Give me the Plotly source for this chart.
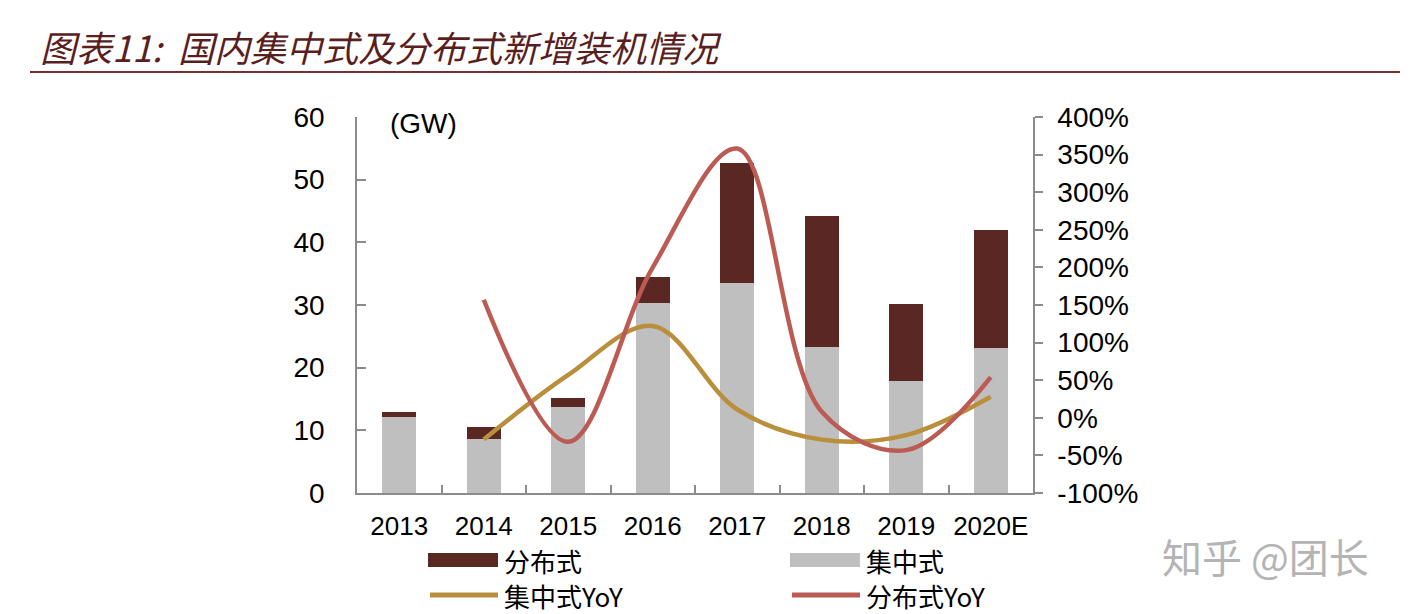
import plotly.graph_objects as go

years = ['2013', '2014', '2015', '2016', '2017', '2018', '2019', '2020E']
centralized = [12.1, 8.6, 13.7, 30.3, 33.5, 23.3, 17.9, 23.1]
distributed = [0.8, 2.0, 1.5, 4.1, 19.1, 20.9, 12.2, 18.9]
centralized_yoy = [None, -0.29, 0.57, 1.22, 0.11, -0.29, -0.23, 0.28]
distributed_yoy = [None, 1.57, -0.32, 2.0, 3.58, 0.08, -0.43, 0.54]
yoy_ticks = [-1.0, -0.5, 0.0, 0.5, 1.0, 1.5, 2.0, 2.5, 3.0, 3.5, 4.0]

C_DIST = '#5B2723'
C_CENT = '#BFBFBF'
C_CENT_YOY = '#B98F3C'
C_DIST_YOY = '#BC5A54'
TICK_FONT = dict(family='Liberation Sans, Arial', size=28, color='#000000')
CJK = 'Noto Sans CJK SC'

# the page body adds an 8px margin, so the figure is 8px smaller and plot area
# is placed in window pixels: x 357..1033, y 117..493
PW, PH = 676, 376

fig = go.Figure()
fig.add_trace(go.Bar(x=years, y=centralized, name='集中式', marker_color=C_CENT,
                     marker_line_width=0, showlegend=False))
fig.add_trace(go.Bar(x=years, y=distributed, name='分布式', marker_color=C_DIST,
                     marker_line_width=0, showlegend=False))
fig.add_trace(go.Scatter(x=years, y=centralized_yoy, name='集中式YoY', yaxis='y2',
                         mode='lines', line=dict(color=C_CENT_YOY, width=4.5, shape='spline', smoothing=1.0),
                         showlegend=False))
fig.add_trace(go.Scatter(x=years, y=distributed_yoy, name='分布式YoY', yaxis='y2',
                         mode='lines', line=dict(color=C_DIST_YOY, width=4.5, shape='spline', smoothing=1.0),
                         showlegend=False))

fig.update_layout(
    width=1414, height=606,
    margin=dict(l=349, r=389, t=109, b=121),
    paper_bgcolor='white', plot_bgcolor='white',
    barmode='stack', bargap=0.6,
    xaxis=dict(showline=True, linecolor='#8C8C8C', linewidth=1.5, ticks='inside',
               tickson='boundaries', ticklen=8, tickcolor='#8C8C8C', tickwidth=1.5,
               tickfont=dict(family='Liberation Sans, Arial', size=26, color='#000'),
               tickangle=0, showgrid=False, ticklabelstandoff=9, automargin=False),
    yaxis=dict(range=[0, 60], dtick=10, showline=True, linecolor='#8C8C8C', linewidth=1.5,
               ticks='inside', ticklen=9, tickcolor='#8C8C8C', tickwidth=1.5,
               tickfont=TICK_FONT, showgrid=False, zeroline=False, ticklabelstandoff=25,
               automargin=False),
    yaxis2=dict(range=[-1, 4], tickvals=yoy_ticks,
                ticktext=['%d%%' % round(v * 100) for v in yoy_ticks],
                overlaying='y', side='right',
                showline=True, linecolor='#8C8C8C', linewidth=1.5, ticks='outside',
                ticklen=8, tickcolor='#8C8C8C', tickwidth=1.5, tickfont=TICK_FONT,
                showgrid=False, zeroline=False, ticklabelstandoff=9, automargin=False),
)


def px_x(x):
    return (x - 357) / PW


def px_y(y):
    return (493 - y) / PH


# title and rule
fig.add_annotation(xref='paper', yref='paper', x=px_x(38), y=px_y(46), xanchor='left', yanchor='middle',
                   text='图表11:  国内集中式及分布式新增装机情况', showarrow=False,
                   font=dict(family=CJK, size=36, color='#5A1E1E', style='italic'))
fig.add_shape(type='line', xref='paper', yref='paper', x0=px_x(30), x1=px_x(1400),
              y0=px_y(72), y1=px_y(72), line=dict(color='#7A2B2B', width=2))

fig.add_annotation(xref='paper', yref='paper', x=px_x(388), y=px_y(124), xanchor='left', yanchor='middle',
                   text='(GW)', showarrow=False, font=dict(family='Liberation Sans, Arial', size=28, color='#000'))

# legend drawn by hand: two columns, two rows
legend_items = [
    ('分布式', C_DIST, 'bar', 428, 560),
    ('集中式', C_CENT, 'bar', 790, 560),
    ('集中式YoY', C_CENT_YOY, 'line', 428, 595),
    ('分布式YoY', C_DIST_YOY, 'line', 790, 595),
]
for label, color, kind, px0, py in legend_items:
    if kind == 'bar':
        fig.add_shape(type='rect', xref='paper', yref='paper', x0=px_x(px0), x1=px_x(px0 + 70),
                      y0=px_y(py + 7), y1=px_y(py - 7), fillcolor=color, line_width=0)
    else:
        fig.add_shape(type='line', xref='paper', yref='paper', x0=px_x(px0 + 2), x1=px_x(px0 + 70),
                      y0=px_y(py), y1=px_y(py), line=dict(color=color, width=5))
    fig.add_annotation(xref='paper', yref='paper', x=px_x(px0 + 74), y=px_y(py), xanchor='left',
                       yanchor='middle', text=label, showarrow=False,
                       font=dict(family=CJK + ', Liberation Sans', size=26, color='#000'))

# watermark
fig.add_annotation(xref='paper', yref='paper', x=px_x(1160), y=px_y(556), xanchor='left',
                   yanchor='middle', text='知乎 @团长', showarrow=False,
                   font=dict(family=CJK, size=40, color='#B4B4B4'))

fig.write_html('out.html')
